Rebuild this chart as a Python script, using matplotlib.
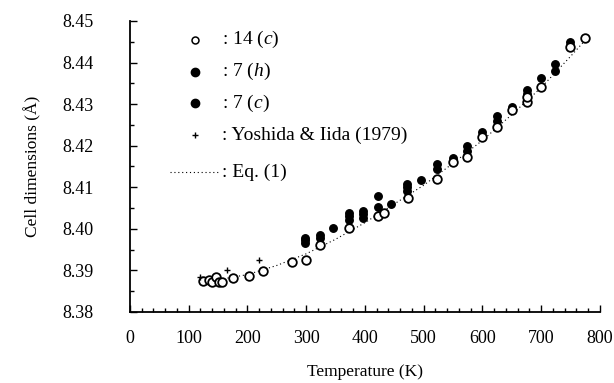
import matplotlib
matplotlib.use("Agg")
import matplotlib.pyplot as plt
from matplotlib.ticker import MultipleLocator, FormatStrFormatter

plt.rcParams["font.family"] = ["Liberation Serif", "DejaVu Serif"]
plt.rcParams["mathtext.fontset"] = "custom"
plt.rcParams["mathtext.rm"] = "Liberation Serif"
plt.rcParams["mathtext.it"] = "Liberation Serif:italic"

# === Data ===
# ref. 14 (c), open circles
t_14c = [125, 135, 140, 147, 152, 157, 176, 202, 226, 275, 299, 323, 373, 422,
         433, 473, 523, 549, 574, 600, 624, 650, 675, 675, 699, 749, 775]
a_14c = [8.3874, 8.3876, 8.3872, 8.3885, 8.3872, 8.3873, 8.3882, 8.3887, 8.3899,
         8.3921, 8.3926, 8.3962, 8.4003, 8.4032, 8.4039, 8.4075, 8.4120, 8.4162,
         8.4172, 8.4220, 8.4244, 8.4286, 8.4305, 8.4317, 8.4341, 8.4438, 8.4459]

# ref. 7 (h), filled circles
t_7h = [298, 323, 345, 373, 397, 422, 472, 496, 523, 574, 625, 675, 724, 749]
a_7h = [8.3978, 8.3984, 8.4003, 8.4039, 8.4042, 8.4080, 8.4107, 8.4117, 8.4155,
        8.4200, 8.4271, 8.4335, 8.4397, 8.4450]

# ref. 7 (c), filled circles
t_7c = [298, 298, 323, 373, 373, 397, 397, 422, 444, 472, 472, 523, 549, 574,
        600, 625, 651, 675, 699, 724, 749]
a_7c = [8.3965, 8.3972, 8.3978, 8.4022, 8.4030, 8.4027, 8.4035, 8.4052, 8.4060,
        8.4092, 8.4100, 8.4143, 8.4170, 8.4188, 8.4232, 8.4259, 8.4294, 8.4325,
        8.4362, 8.4380, 8.4440]

# Yoshida & Iida (1979)
t_yi = [119, 165, 220]
a_yi = [8.3885, 8.3901, 8.3926]

# Eq. (1), sampled along the dotted curve
t_eq = [120, 160, 200, 250, 300, 350, 400, 450, 500, 550, 600, 650, 700, 750, 780]
a_eq = [8.3873, 8.3880, 8.3890, 8.3912, 8.3940, 8.3975, 8.4015, 8.4060, 8.4105,
        8.4158, 8.4213, 8.4275, 8.4340, 8.4415, 8.4462]

DOTS = (0, (1, 2.5))

fig = plt.figure(figsize=(6.14, 3.83), dpi=100)
ax = fig.add_axes([0.2117, 0.1854, 0.7655, 0.7598])

ax.plot(t_eq, a_eq, linestyle=DOTS, color="black", linewidth=0.8)
ax.plot(t_7c, a_7c, "o", color="black", markersize=5.4, linestyle="none")
ax.plot(t_7h, a_7h, "o", color="black", markersize=5.4, linestyle="none")
ax.plot(t_14c, a_14c, "o", markerfacecolor="white", markeredgecolor="black",
        markeredgewidth=1.3, markersize=6.2, linestyle="none")
ax.plot(t_yi, a_yi, "+", color="black", markersize=4.5, markeredgewidth=1.0,
        linestyle="none")

ax.set_xlim(0, 800)
ax.set_ylim(8.38, 8.45)
ax.xaxis.set_major_locator(MultipleLocator(100))
ax.xaxis.set_minor_locator(MultipleLocator(20))
ax.yaxis.set_major_locator(MultipleLocator(0.01))
ax.yaxis.set_minor_locator(MultipleLocator(0.005))
ax.yaxis.set_major_formatter(FormatStrFormatter("%.2f"))

for s in ["top", "right"]:
    ax.spines[s].set_visible(False)
for s in ["left", "bottom"]:
    ax.spines[s].set_linewidth(1.3)

ax.tick_params(axis="both", which="both", direction="in", width=1.0)
ax.tick_params(axis="both", which="major", length=5, labelsize=13)
ax.tick_params(axis="both", which="minor", length=3)
ax.tick_params(axis="y", which="major", pad=26)
ax.tick_params(axis="x", which="major", pad=13)

ax.set_xlabel("Temperature (K)", fontsize=12.5, labelpad=12)
ax.set_ylabel("Cell dimensions (Å)", fontsize=12.5, labelpad=15)

# Legend drawn by hand (uneven row spacing as in the original)
leg_rows = [0.935, 0.825, 0.718, 0.608, 0.481]
leg_labels = [r": 14 ($c$)", r": 7 ($h$)", r": 7 ($c$)",
              ": Yoshida & Iida (1979)", ": Eq. (1)"]
mx, tx = 0.138, 0.196
ax.plot([mx], [leg_rows[0]], "o", transform=ax.transAxes, clip_on=False,
        markerfacecolor="white", markeredgecolor="black", markeredgewidth=1.1,
        markersize=5)
ax.plot([mx], [leg_rows[1]], "o", transform=ax.transAxes, clip_on=False,
        color="black", markersize=6)
ax.plot([mx], [leg_rows[2]], "o", transform=ax.transAxes, clip_on=False,
        color="black", markersize=6)
ax.plot([mx], [leg_rows[3]], "+", transform=ax.transAxes, clip_on=False,
        color="black", markersize=4, markeredgewidth=1.0)
ax.plot([0.085, 0.191], [leg_rows[4], leg_rows[4]], transform=ax.transAxes,
        clip_on=False, linestyle=DOTS, color="black", linewidth=0.8)
for yy, lab in zip(leg_rows, leg_labels):
    ax.text(tx, yy, lab, transform=ax.transAxes, fontsize=14,
            ha="left", va="center")

fig.savefig("out.png", dpi=100)
